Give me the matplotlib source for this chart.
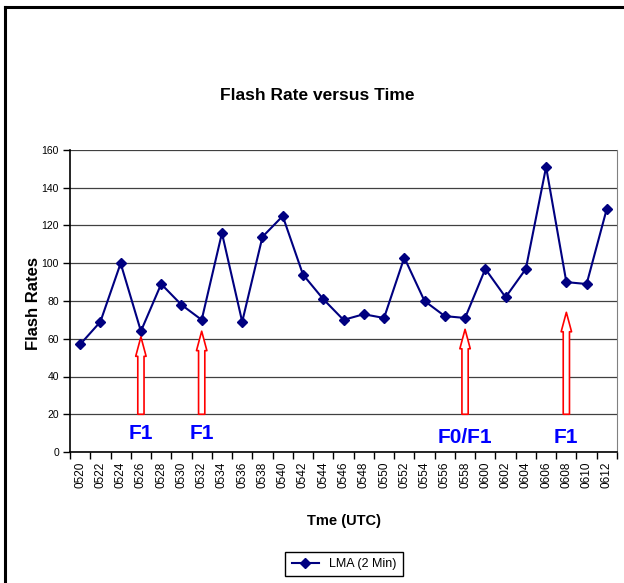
import matplotlib.pyplot as plt
from matplotlib.lines import Line2D
from matplotlib.patches import FancyArrowPatch

# Daten: Zeitpunkte (UTC) und Blitzraten
times = ["0520", "0522", "0524", "0526", "0528", "0530", "0532", "0534", "0536",
         "0538", "0540", "0542", "0544", "0546", "0548", "0550", "0552", "0554",
         "0556", "0558", "0600", "0602", "0604", "0606", "0608", "0610", "0612"]
flash_rates = [57, 69, 100, 64, 89, 78, 70, 116, 69, 114, 125, 94, 81, 70, 73, 71,
               103, 80, 72, 71, 97, 82, 97, 151, 90, 89, 129]

# Markierungen (Pfeile) fuer Tornado-Ereignisse
event_times = ["0526", "0532", "0558", "0608"]
event_labels = ["F1", "F1", "F0/F1", "F1"]
event_tips = [61, 64, 65, 74]
event_label_y = [10, 10, 7.5, 7.5]

plt.rcParams["font.family"] = ["Liberation Sans", "DejaVu Sans"]

fig = plt.figure(figsize=(6.24, 5.83), dpi=100)
ax = fig.add_axes([70 / 624, 1 - 452 / 583, 547 / 624, 302 / 583])

x = list(range(len(times)))
ax.plot(x, flash_rates, color="#000080", lw=1.5, marker="D", markersize=5.5,
        label="LMA (2 Min)")

# Pfeile und Beschriftungen
for t, lab, tip, ly in zip(event_times, event_labels, event_tips, event_label_y):
    xi = times.index(t)
    arrow = FancyArrowPatch((xi, 20), (xi, tip), mutation_scale=1,
                            arrowstyle="simple,head_length=14,head_width=7.5,tail_width=4.5",
                            fc="white", ec="red", lw=1.2, shrinkA=0, shrinkB=0, zorder=4)
    ax.add_patch(arrow)
    ax.text(xi, ly, lab, color="blue", fontsize=15, fontweight="bold",
            ha="center", va="center")

ax.set_xlim(-0.5, len(times) - 0.5)
ax.set_ylim(0, 160)
ax.set_yticks(range(0, 161, 20))
ax.grid(axis="y", color="#404040", lw=0.9)
ax.set_axisbelow(True)

ax.set_xticks(x)
ax.set_xticklabels(times, rotation=90, fontsize=8.5)
ax.set_xticks([i - 0.5 for i in range(len(times) + 1)], minor=True)
ax.tick_params(axis="x", which="major", length=0, pad=7)
ax.tick_params(axis="x", which="minor", length=5, width=1, direction="out")
ax.tick_params(axis="y", length=5, width=1, labelsize=7.5, pad=3)

ax.spines["top"].set_visible(False)
ax.spines["right"].set_color("#808080")
ax.spines["left"].set_linewidth(1.2)
ax.spines["bottom"].set_linewidth(1.2)

fig.text(317 / 624, 1 - 96 / 583, "Flash Rate versus Time", fontsize=12.5,
         fontweight="bold", ha="center", va="center")
fig.text(34 / 624, 1 - 303 / 583, "Flash Rates", fontsize=12, fontweight="bold",
         rotation=90, ha="center", va="center")
fig.text(344 / 624, 1 - 521 / 583, "Tme (UTC)", fontsize=10.5, fontweight="bold",
         ha="center", va="center")

ax.legend(loc="center", bbox_to_anchor=(344 / 624, 1 - 564 / 583),
          bbox_transform=fig.transFigure, fontsize=9, fancybox=False,
          edgecolor="black", framealpha=1, handlelength=2.2, borderpad=0.5)

# Rahmen oben und links
fig.add_artist(Line2D([5 / 624, 1], [1 - 6.5 / 583, 1 - 6.5 / 583], color="black", lw=2.2))
fig.add_artist(Line2D([5 / 624, 5 / 624], [0, 1 - 6.5 / 583], color="black", lw=2.2))

fig.savefig("out.png", dpi=100)
